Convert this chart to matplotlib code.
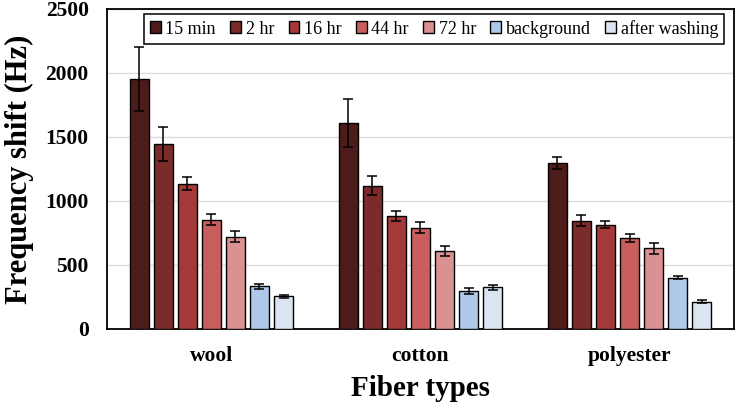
import numpy as np
import matplotlib.pyplot as plt

# Fiber types and exposure series
fibers = ['wool', 'cotton', 'polyester']
series = ['15 min', '2 hr', '16 hr', '44 hr', '72 hr', 'background', 'after washing']

# Frequency shift (Hz) per series, one value per fiber
shift_15min = [1953, 1609, 1294]
shift_2hr = [1445, 1120, 844]
shift_16hr = [1133, 883, 815]
shift_44hr = [854, 792, 711]
shift_72hr = [721, 607, 630]
shift_background = [331, 297, 401]
shift_washing = [255, 325, 213]

# Error bar half-lengths (Hz)
err_15min = [250, 185, 47]
err_2hr = [135, 75, 42]
err_16hr = [50, 38, 29]
err_44hr = [45, 40, 29]
err_72hr = [40, 40, 42]
err_background = [17, 26, 15]
err_washing = [10, 18, 13]

values = [shift_15min, shift_2hr, shift_16hr, shift_44hr, shift_72hr, shift_background, shift_washing]
errors = [err_15min, err_2hr, err_16hr, err_44hr, err_72hr, err_background, err_washing]
colors = ['#4e1b1b', '#7c2b2b', '#a33939', '#c95e5e', '#d99191', '#aec9ea', '#dbe5f2']

plt.rcParams['font.family'] = ['Liberation Serif', 'DejaVu Serif']

fig = plt.figure(figsize=(7.37, 4.08), dpi=100)
ax = fig.add_axes([0.145, 0.194, 0.851, 0.784])

x = np.arange(len(fibers))
pitch = 0.115
width = 0.093
for j, (vals, errs, col, name) in enumerate(zip(values, errors, colors, series)):
    ax.bar(x + (j - 3) * pitch, vals, width, yerr=errs, color=col, edgecolor='black',
           linewidth=1.0, label=name, zorder=3,
           error_kw=dict(ecolor='black', elinewidth=1.1, capsize=3.5, capthick=1.1, zorder=4))

ax.set_xlim(-0.5, 2.5)
ax.set_ylim(0, 2500)
ax.set_yticks([0, 500, 1000, 1500, 2000, 2500])
ax.set_xticks(x)
ax.set_xticklabels(fibers, fontsize=15.5, fontweight='bold')
ax.tick_params(axis='x', length=0, pad=12)
ax.tick_params(axis='y', length=0, pad=13, labelsize=15.5)
for lab in ax.get_yticklabels():
    lab.set_fontweight('bold')

ax.yaxis.grid(True, color='#dcdcdc', linewidth=1.0, zorder=0)
for side in ax.spines.values():
    side.set_linewidth(1.3)
    side.set_color('black')

ax.set_ylabel('Frequency shift (Hz)', fontsize=22, fontweight='bold', labelpad=8)
ax.set_xlabel('Fiber types', fontsize=21, fontweight='bold', labelpad=7)

leg = ax.legend(loc='upper right', bbox_to_anchor=(0.99, 0.997), ncol=7, fontsize=13,
                frameon=True, fancybox=False, edgecolor='black', framealpha=1,
                handlelength=0.6, handleheight=0.6, handletextpad=0.25,
                columnspacing=0.8, borderpad=0.34, borderaxespad=0.2)
leg.get_frame().set_linewidth(1.1)

plt.savefig('out.png', dpi=100)
